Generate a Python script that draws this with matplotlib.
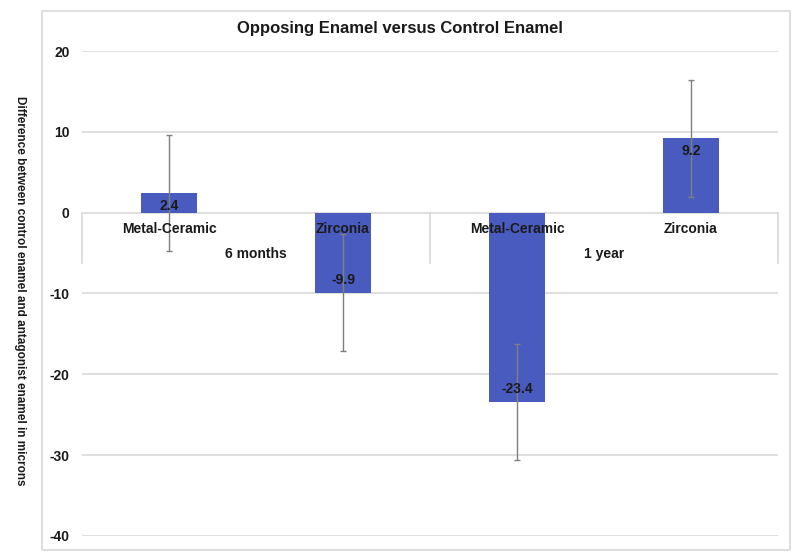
import numpy as np
import matplotlib
matplotlib.use('Agg')
import matplotlib.pyplot as plt
from matplotlib.patches import Rectangle

plt.rcParams['font.family'] = ['Liberation Sans', 'DejaVu Sans']

# data
materials = ['Metal-Ceramic', 'Zirconia', 'Metal-Ceramic', 'Zirconia']
periods = ['6 months', '1 year']
values = [2.4, -9.9, -23.4, 9.2]
errors = [7.2, 7.2, 7.2, 7.2]
yticks = [20, 10, 0, -10, -20, -30, -40]

fig = plt.figure(figsize=(8, 5.6), dpi=100)
ax = fig.add_axes([0.1025, 0.0429, 0.87, 0.866])

# outer chart frame
fig.patches.append(Rectangle((0.052, 0.018), 0.936, 0.962, transform=fig.transFigure,
                             fill=False, edgecolor='#d9d9d9', linewidth=1.2))

x = np.arange(len(values))
ax.set_xlim(-0.5, len(values) - 0.5)
ax.set_ylim(-40, 20)
for t in yticks:
    ax.axhline(t, color='#d9d9d9', linewidth=1.2, zorder=0)

ax.bar(x, values, width=0.32, color='#4a5bbf', zorder=2)
ax.errorbar(x, values, yerr=errors, fmt='none', ecolor='#7f7f7f',
            elinewidth=1, capsize=2, capthick=1, zorder=4)

# value labels inside bar end
for xi, v in zip(x, values):
    off = -1.6 if v > 0 else 1.6
    ax.text(xi, v + off, f'{v:.1f}', ha='center', va='center',
            fontsize=10, fontweight='bold', color='#1a1a1a', zorder=5)

# two-level category axis
for xi, m in zip(x, materials):
    ax.text(xi, -2.0, m, ha='center', va='center', fontsize=10,
            fontweight='bold', color='#1a1a1a', zorder=5)
for i, p in enumerate(periods):
    ax.text(2 * i + 0.5, -5.1, p, ha='center', va='center', fontsize=10,
            fontweight='bold', color='#1a1a1a', zorder=5)
for xd in [-0.5, 1.5, 3.5]:
    ax.plot([xd, xd], [0, -6.2], color='#d9d9d9', linewidth=1.2, zorder=1,
            clip_on=False)

ax.set_xticks([])
ax.set_yticks(yticks)
ax.set_yticklabels([str(t) for t in yticks], fontsize=10, fontweight='bold',
                   color='#1a1a1a')
ax.tick_params(axis='y', length=0, pad=9)
for s in ax.spines.values():
    s.set_visible(False)

fig.text(0.5, 0.95, 'Opposing Enamel versus Control Enamel', ha='center',
         va='center', fontsize=12, fontweight='bold', color='#1a1a1a')
fig.text(0.025, 0.48, 'Difference between control enamel and antagonist enamel in microns',
         rotation=270, ha='center', va='center', fontsize=8.5, fontweight='bold',
         color='#1a1a1a')

fig.savefig('out.png', dpi=100)
